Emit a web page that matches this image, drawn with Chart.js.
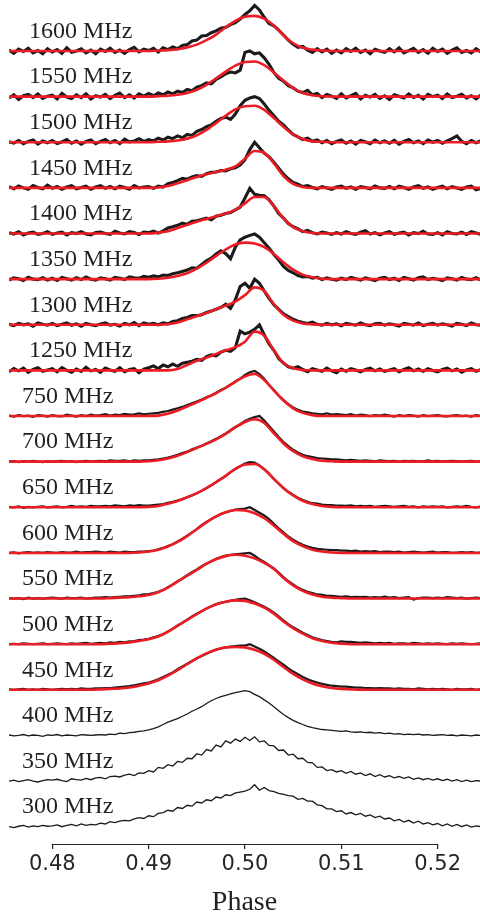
<!DOCTYPE html>
<html>
<head>
<meta charset="utf-8">
<title>Pulse profiles vs frequency</title>
<script src="https://cdn.jsdelivr.net/npm/chart.js@4.4.1/dist/chart.umd.min.js"></script>
<style>
  html, body { margin: 0; padding: 0; background: #fff; }
  #wrap { width: 480px; height: 917px; position: relative; }
</style>
</head>
<body>
<div id="wrap"><canvas id="grafico"></canvas></div>
<script>
//  Labels and axis //
const freqLabels = ['1600 MHz', '1550 MHz', '1500 MHz', '1450 MHz', '1400 MHz', '1350 MHz',
  '1300 MHz', '1250 MHz', '750 MHz', '700 MHz', '650 MHz', '600 MHz', '550 MHz',
  '500 MHz', '450 MHz', '400 MHz', '350 MHz', '300 MHz'];
const phaseTicks = [0.48, 0.49, 0.50, 0.51, 0.52];

// phase bins of the profiles (0.4755 .. 0.5245, step 0.0005) and of the fits (0.475 .. 0.525, step 0.001)
const phaseBins = Array.from({ length: 99 }, (_, k) => +(0.4755 + 0.0005 * k).toFixed(4));
const fitPhase = Array.from({ length: 51 }, (_, j) => +(0.475 + 0.001 * j).toFixed(3));

//  Measured profiles (percent of peak) //
const trace1600 = [2,-5,4,-1,6,-4,1,-6,5, -2,3,-5,7,-3,0,5,-4,2,-6, 4,-1,6,-3,2,-5,3,8,-2,4,
  1,6,-2,7,3,9,5,12,14,22, 24,33,34,40,44,50,52,58,62,70, 80,88,100,90,74,60,55,46,35,24,
  15,8,10,2,-3,5,-2,4,-5,2, -4,5,-1,6,-3,2,-6,4,0,-3, 5,-2,7,-4,1,6,-3,3,-5,6, -1,4,-5,2,7,-3,1,-4,5,-2];
const trace1550 = [-3,4,-6,2,5,-2,6,-4,1, 3,-5,7,-1,-4,4,-2,6,-5,2, -1,5,-4,3,8,-2,4,-3,6,1,
  7,2,8,4,10,6,12,9,16,13, 21,24,30,28,38,43,50,54,52,58, 97,100,94,96,85,71,53,40,34,24,
  19,12,9,14,4,7,-2,5,1,-4, 6,-3,2,7,-5,3,-1,5,-4,2, -6,4,1,-3,6,-2,3,-5,5,0, 3,-4,6,-2,1,5,-3,2,-5,4];
const trace1500 = [1,-2,4,-3,2,5,-4,3,-1, 4,-3,1,6,-2,3,-4,2,5,-3, 2,6,-1,4,-3,7,1,3,8,2,
  6,3,9,5,11,8,14,10,17,15, 24,28,34,38,46,52,55,50,62,80, 92,97,100,96,84,70,58,46,38,27,
  17,12,6,9,2,5,-1,4,-3,2, 5,-2,3,-4,4,1,-3,5,-1,3, -2,4,-4,2,6,-1,3,-3,5,0, 4,-2,3,8,14,2,-3,4,-1,3];
const trace1450 = [3,-2,4,0,-3,5,1,-2,6, -1,3,-3,2,5,-2,1,4,-3,2, 5,-1,3,-2,4,1,-3,5,0,2,
  3,-1,4,2,9,12,16,21,19,24, 27,25,31,34,35,38,37,42,44,50, 62,84,100,88,76,68,56,43,30,20,
  12,8,3,5,1,-2,3,0,-3,2, 4,-1,2,-3,3,1,-2,4,0,-1, 3,-2,4,1,-3,2,5,-1,2,-3, 1,4,-2,3,0,-3,2,4,-4,-1];
const trace1400 = [2,-1,4,-3,1,3,-2,0,4, -2,1,3,-3,2,0,4,-1,-3,2, 3,0,-2,5,1,-1,4,2,-2,3,
  2,5,1,6,12,15,18,23,20,27, 28,31,34,30,38,40,44,46,52,58, 78,99,86,84,83,74,60,44,34,22,
  15,10,4,7,2,-1,3,1,-2,2, -1,4,0,-2,3,6,-1,2,-3,1, 4,-2,1,3,-3,2,0,5,-1,-2, 2,-3,4,0,-1,3,-2,4,1,-2];
const trace1350 = [-2,3,1,-3,4,0,-1,3,-2, 2,-3,4,1,-2,3,-1,5,0,-2, 3,1,-2,4,2,-1,5,3,2,6,
  4,7,5,9,8,12,14,17,20,25, 24,32,40,46,55,62,56,45,70,86, 92,96,99,92,80,68,54,42,28,19,
  14,8,5,6,2,4,-1,3,0,-2, 2,-1,4,1,-2,3,0,-3,2,4, -1,2,-3,4,1,-2,3,5,-1,2, 0,-3,3,1,-2,4,0,-1,3,-2];
const trace1300 = [1,-2,3,0,2,-3,4,1,-1, 3,-2,1,4,-1,2,-3,3,0,-2, 2,4,-1,1,-3,3,0,5,-2,4,
  1,3,0,4,2,7,9,14,16,20, 20,22,27,30,34,38,45,36,55,84, 91,80,100,91,74,58,44,34,24,18,
  12,8,5,3,6,1,-1,3,0,2, -2,3,1,-1,4,0,-2,2,3,-1, 2,0,-3,3,1,-1,4,-2,1,3, -1,2,0,-3,3,1,-2,4,0,-1];
const trace1250 = [-3,4,-1,5,-4,2,6,-2,1, 4,-3,6,0,-4,3,-2,7,-1,2, -4,5,1,-2,6,-3,2,4,-5,3,
  6,10,4,12,8,14,9,16,18,20, 24,22,30,34,32,40,44,42,50,86, 80,84,90,100,78,58,44,26,16,8,
  5,8,2,-3,4,1,-2,5,-1,-5, 3,-2,4,1,-3,2,5,-1,3,-2, 1,4,-3,2,6,-1,3,-2,4,0, -3,2,5,-1,3,-4,1,4,-2,2];
const trace750 = [1,-1,2,0,1,-2,2,1,-1, 2,0,-1,3,1,-1,2,0,3,1, 2,4,1,3,2,5,3,4,6,4,
  5,6,7,9,11,14,17,20,24,28, 32,36,41,45,51,57,62,69,76,82, 90,96,99,92,82,68,57,45,35,26,
  19,14,10,8,6,5,4,6,3,4, 3,2,4,1,3,2,0,2,1,3, 1,-1,2,0,2,1,-1,2,0,1, 2,0,-1,1,2,0,1,-1,2,0];
const trace700 = [0,1,-1,1,0,2,0,-1,1, 0,1,2,0,1,-1,1,2,0,1, 2,1,3,2,2,3,1,3,2,3,
  3,4,5,7,9,12,15,19,22,27, 31,35,40,45,50,56,62,69,76,82, 89,94,98,100,90,78,66,54,43,34,
  26,20,15,12,10,8,7,6,5,5, 4,3,4,3,2,3,2,1,3,2, 1,2,0,2,1,2,0,1,3,1, 2,0,1,2,1,0,1,2,0,1];
const trace650 = [1,0,2,-1,1,0,1,2,0, 1,2,0,1,3,1,2,1,3,2, 2,3,2,4,3,2,4,3,5,4,
  4,5,6,7,10,12,15,18,22,26, 31,36,42,48,55,62,69,77,84,90, 96,99,98,92,84,74,62,52,42,34,
  27,21,16,12,9,8,6,5,5,4, 4,3,4,2,3,2,3,1,2,3, 2,1,2,3,1,2,0,2,1,2, 1,2,0,1,2,1,3,1,0,2];
const trace600 = [0,1,-1,1,2,0,1,0,2, 1,0,2,1,1,3,1,2,2,3, 2,1,3,2,1,3,2,2,3,3,
  4,5,8,11,15,19,25,31,38,45, 52,61,68,74,80,85,89,92,95,96, 97,100,94,88,82,74,64,54,45,36,
  29,23,18,14,11,9,8,7,6,6, 5,5,4,5,3,4,3,4,2,3, 3,2,3,1,2,3,2,1,2,3, 1,2,2,0,1,2,1,2,0,1];
const trace550 = [1,0,1,-1,2,0,1,0,1, 2,1,0,2,1,1,2,0,1,2, 2,3,2,3,4,5,5,6,7,9,
  10,12,15,19,25,31,38,44,51,58, 64,71,77,82,87,91,94,96,97,98, 99,100,94,86,80,73,66,57,47,38,
  31,24,19,15,12,9,8,6,6,5, 4,5,3,4,3,4,2,3,2,4, 2,3,1,2,3,-2,1,2,2,1, 2,1,3,2,1,2,0,1,2,1];
const trace500 = [0,1,0,2,1,0,1,2,0, 1,2,1,0,2,1,2,3,1,2, 3,2,4,3,5,4,6,7,9,10,
  12,15,18,22,28,34,41,47,54,61, 67,72,78,83,88,91,93,95,97,99, 100,96,92,87,82,76,69,61,52,44,
  37,31,25,20,15,12,9,7,5,4, 6,5,5,4,3,4,3,2,3,2, 3,1,2,2,1,3,2,1,2,1, 2,1,0,2,1,2,1,0,1,2];
const trace450 = [1,0,1,2,0,1,0,2,1, 0,1,2,1,2,1,3,2,2,3, 3,4,4,5,6,7,8,10,12,14,
  16,19,23,28,33,38,45,51,57,63, 69,74,79,84,88,91,93,95,96,97, 97,100,95,90,84,77,70,62,55,47,
  40,34,28,23,19,16,13,11,9,8, 7,7,6,5,5,4,4,3,4,3, 3,2,3,2,2,1,3,2,1,2, 1,2,1,0,2,1,1,2,0,1];
const trace400 = [1,-1,0,2,-1,1,0,-2,1, 0,2,-1,1,0,-1,2,1,0,1, 2,1,3,2,5,4,6,7,9,10,
  12,15,19,24,29,33,37,42,47,53, 58,63,70,76,81,85,88,91,94,96, 98,96,90,85,78,71,63,54,46,39,
  33,28,24,20,17,15,13,12,11,10, 9,10,8,7,8,6,7,5,6,4, 5,3,4,2,3,2,3,1,2,0, 1,2,0,1,-1,1,0,-1,1,0];
const trace350 = [0,2,-1,1,3,0,-2,1,3, 2,4,1,-1,5,3,2,6,3,7, 8,5,10,11,9,13,15,12,18,17,
  23,20,30,28,36,33,43,41,50,49, 60,57,69,66,79,75,88,83,92,87, 96,89,97,86,88,78,77,67,68,57,
  59,49,50,41,40,30,31,23,25,20, 23,17,21,15,18,12,16,10,14,9, 12,7,10,6,9,4,7,3,6,2, 5,1,4,0,3,-1,2,-1,1,0];
const trace300 = [0,-2,1,3,-1,2,0,3,1, 2,4,0,3,5,2,6,3,5,4, 8,6,11,9,12,14,13,17,20,18,
  24,22,29,31,36,34,42,40,47,45, 54,52,59,57,65,63,70,68,74,76, 78,82,92,80,86,79,77,73,71,68,
  67,60,62,56,56,48,46,39,39,33, 35,28,31,26,29,23,26,20,23,17, 19,13,16,10,14,8,12,6,9,4, 7,2,6,1,5,0,4,-1,2,0];

//  Fitted models (percent of peak), 0.475 .. 0.525 //
const fit1600 = [0,0,0,0, 0,0,0,0, 0,0,0,0, 0,0,0,0,
  1,2,4,8,14,24,36,52,66,75,77,71,56,34,17,7,3,1,
  0,0,0,0, 0,0,0,0, 0,0,0,0, 0,0,0,0, 0];
const fit1550 = [0,0,0,0, 0,0,0,0, 0,0,0,0, 0,0,0,0,
  1,2,4,8,15,26,40,55,68,76,77,69,53,35,19,8,3,1,
  0,0,0,0, 0,0,0,0, 0,0,0,0, 0,0,0,0, 0];
const fit1500 = [0,0,0,0, 0,0,0,0, 0,0,0,0, 0,0,0,0,
  1,2,4,8,15,27,42,58,72,79,80,71,53,34,17,7,2,1,
  0,0,0,0, 0,0,0,0, 0,0,0,0, 0,0,0,0, 0];
const fit1450 = [0,0,0,0, 0,0,0,0, 0,0,0,0, 0,0,0,0,
  1,4,10,17,24,30,35,40,47,64,81,77,54,26,9,2,0,
  0,0,0,0, 0,0,0,0, 0,0,0,0, 0,0,0,0, 0,0];
const fit1400 = [0,0,0,0, 0,0,0,0, 0,0,0,0, 0,0,0,0,
  2,5,12,19,26,32,38,44,52,66,80,80,60,33,14,5,1,
  0,0,0,0, 0,0,0,0, 0,0,0,0, 0,0,0,0, 0,0];
const fit1350 = [0,0,0,0, 0,0,0,0, 0,0,0,0, 0,0,0,0,
  1,3,7,13,23,36,51,65,76,80,78,70,55,37,21,10,4,1,
  0,0,0,0, 0,0,0,0, 0,0,0,0, 0,0,0,0, 0];
const fit1300 = [0,0,0,0, 0,0,0,0, 0,0,0,0, 0,0,0,0, 0,
  1,5,12,19,26,34,42,51,65,82,74,45,22,9,3,1,
  0,0,0,0, 0,0,0,0, 0,0,0,0, 0,0,0,0, 0,0];
const fit1250 = [0,0,0,0, 0,0,0,0, 0,0,0,0, 0,0,0,0, 0,0,
  3,12,21,28,36,44,51,63,85,76,44,16,5,1,
  0,0,0,0, 0,0,0,0, 0,0,0,0, 0,0,0,0, 0,0,0];
const fit750 = [0,0,0,0, 0,0,0,0, 0,0,0,0, 0,0,0,0,
  1,5,12,21,30,40,50,62,75,87,92,79,56,34,17,7,2,
  0,0,0,0, 0,0,0,0, 0,0,0,0, 0,0,0,0, 0,0];
const fit700 = [0,0,0,0, 0,0,0,0, 0,0,0,0, 0,0,0,
  1,3,7,13,21,30,39,49,61,75,87,93,85,62,40,23,12,6,2,1,
  0,0,0,0, 0,0,0,0, 0,0,0,0, 0,0,0,0];
const fit650 = [0,0,0,0, 0,0,0,0, 0,0,0,0, 0,0,0,
  1,3,8,14,22,31,42,55,69,84,94,95,83,62,42,26,14,7,3,1,
  0,0,0,0, 0,0,0,0, 0,0,0,0, 0,0,0,0];
const fit600 = [0,0,0,0, 0,0,0,0, 0,0,0,0, 0,0,
  1,3,7,14,24,37,52,67,80,89,94,93,87,76,60,42,26,15,7,3,1,
  0,0,0,0, 0,0,0,0, 0,0,0,0, 0,0,0,0];
const fit550 = [0,0,0,0, 0,0,0,0, 0,0,0,
  1,2,3,5,8,14,24,37,50,63,76,86,93,96,94,88,78,65,45,29,17,9,4,2,1,
  0,0,0,0, 0,0,0,0, 0,0,0,0, 0,0,0];
const fit500 = [0,0,0,0, 0,0,0,0, 0,0,0,
  1,2,4,7,11,17,27,40,53,66,78,87,93,96,95,89,80,67,50,35,23,13,7,3,1,
  0,0,0,0, 0,0,0,0, 0,0,0,0, 0,0,0];
const fit450 = [0,0,0,0, 0,0,0,0, 0,0,
  1,2,3,5,9,14,21,31,43,56,69,80,88,93,94,93,88,79,66,50,35,23,14,8,4,2,1,
  0,0,0,0, 0,0,0,0, 0,0,0,0, 0,0];

const traces = [trace1600, trace1550, trace1500, trace1450, trace1400, trace1350, trace1300, trace1250,
  trace750, trace700, trace650, trace600, trace550, trace500, trace450, trace400, trace350, trace300];
const fits = [fit1600, fit1550, fit1500, fit1450, fit1400, fit1350, fit1300, fit1250,
  fit750, fit700, fit650, fit600, fit550, fit500, fit450, null, null, null];

//  Styles //
const COR_TRACO = '#1c1a1a';
const COR_AJUSTE = '#ec1c24';
const COR_TEXTO = '#231f20';

function larguraTraco(i) {
  if (i < 8) return 3.1;
  if (i < 15) return 2.2;
  return 1.3;
}

//  Build the datasets, one offset per frequency //
const datasets = [];
traces.forEach((tr, i) => {
  const off = traces.length - 1 - i;
  datasets.push({
    data: tr.map((v, k) => ({ x: phaseBins[k], y: off + v / 100 })),
    borderColor: COR_TRACO,
    borderWidth: larguraTraco(i),
    pointRadius: 0,
    tension: 0,
    order: 2
  });
  if (fits[i]) {
    datasets.push({
      data: fits[i].map((v, j) => ({ x: fitPhase[j], y: off + v / 100 })),
      borderColor: COR_AJUSTE,
      borderWidth: 2.6,
      pointRadius: 0,
      cubicInterpolationMode: 'monotone',
      order: 1
    });
  }
});

// frequency labels over each profile
const freqLabelPlugin = {
  id: 'freqLabels',
  afterDatasetsDraw(chart) {
    const { ctx, scales: { y } } = chart;
    ctx.save();
    ctx.font = '24px "Liberation Serif"';
    ctx.fillStyle = COR_TEXTO;
    ctx.textBaseline = 'alphabetic';
    freqLabels.forEach((txt, i) => {
      const off = freqLabels.length - 1 - i;
      const xPos = txt.length > 7 ? 29 : 22;
      ctx.fillText(txt, xPos, y.getPixelForValue(off + 0.29));
    });
    ctx.restore();
  }
};

// trimmed bottom spine, from first to last tick
const spinePlugin = {
  id: 'spine',
  afterDraw(chart) {
    const { ctx, chartArea, scales: { x } } = chart;
    const x0 = x.getPixelForValue(phaseTicks[0]);
    const x1 = x.getPixelForValue(phaseTicks[phaseTicks.length - 1]);
    ctx.save();
    ctx.strokeStyle = '#262626';
    ctx.lineWidth = 1.2;
    ctx.beginPath();
    ctx.moveTo(x0 - 0.6, chartArea.bottom + 0.5);
    ctx.lineTo(x1 + 0.6, chartArea.bottom + 0.5);
    ctx.stroke();
    ctx.restore();
  }
};

new Chart(document.getElementById('grafico'), {
  type: 'line',
  data: { datasets },
  options: {
    responsive: true,
    maintainAspectRatio: false,
    animation: false,
    events: [],
    layout: { padding: { left: 9, right: 0, top: 0, bottom: 0 } },
    plugins: { legend: { display: false }, tooltip: { enabled: false } },
    scales: {
      x: {
        type: 'linear',
        min: 0.4755,
        max: 0.5244,
        afterBuildTicks: s => { s.ticks = phaseTicks.map(v => ({ value: v })); },
        afterFit: s => { s.height = 73; },
        border: { display: false },
        grid: { drawOnChartArea: false, drawTicks: true, tickLength: 5, color: '#262626', lineWidth: 1.2 },
        ticks: {
          padding: 3,
          color: '#262626',
          font: { family: 'DejaVu Sans', size: 21 },
          maxRotation: 0,
          autoSkip: false,
          callback: v => Number(v).toFixed(2)
        },
        title: {
          display: true,
          text: 'Phase',
          color: COR_TEXTO,
          font: { family: 'Liberation Serif', size: 28, lineHeight: 1 },
          padding: { top: 0, bottom: 0 }
        }
      },
      y: { display: false, min: -0.379, max: 18.118 }
    }
  },
  plugins: [freqLabelPlugin, spinePlugin]
});
</script>
</body>
</html>
